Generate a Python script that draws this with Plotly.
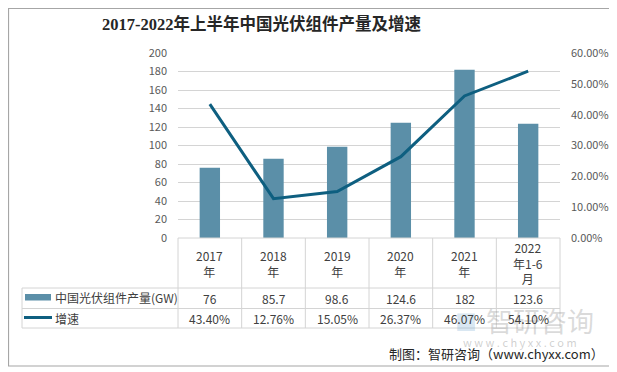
import plotly.graph_objects as go

# ---- data ----
categories = ["2017年", "2018年", "2019年", "2020年", "2021年", "2022年1-6月"]
category_labels = ["2017<br>年", "2018<br>年", "2019<br>年", "2020<br>年", "2021<br>年", "2022<br>年1-6<br>月"]
output_gw = [76, 85.7, 98.6, 124.6, 182, 123.6]
growth_pct = [43.40, 12.76, 15.05, 26.37, 46.07, 54.10]
series_names = ["中国光伏组件产量(GW)", "增速"]
title_text = "2017-2022年上半年中国光伏组件产量及增速"
credit_text = "制图：智研咨询（www.chyxx.com）"

PAGE_W, PAGE_H = 617, 372
OFF = 8  # default body margin of the page
L, R, T, B = 178, 560, 53, 238  # plot area in page pixels

def px(x):
    return (x - L) / (R - L)

def py(y):
    return (B - y) / (B - T)

BAR_COLOR = "#5B8FA8"
LINE_COLOR = "#0E5F80"
GRID = "#D4D4D4"
TXT = "#404040"
FONT = "Microsoft YaHei, Noto Sans CJK SC, sans-serif"

fig = go.Figure()
fig.add_trace(go.Bar(x=categories, y=output_gw, name=series_names[0],
                     marker=dict(color=BAR_COLOR, line=dict(width=0)), width=0.32))
fig.add_trace(go.Scatter(x=categories, y=[v / 100 for v in growth_pct], name=series_names[1],
                         mode="lines", line=dict(color=LINE_COLOR, width=3), yaxis="y2"))

shapes = []
def hline(y, x0, x1, color=GRID, width=1):
    shapes.append(dict(type="line", xref="paper", yref="paper", x0=px(x0), x1=px(x1),
                       y0=py(y), y1=py(y), line=dict(color=color, width=width)))
def vline(x, y0, y1, color=GRID, width=1):
    shapes.append(dict(type="line", xref="paper", yref="paper", x0=px(x), x1=px(x),
                       y0=py(y0), y1=py(y1), line=dict(color=color, width=width)))

row1, row2, row3 = 288, 308.5, 328
col_edges = [L + i * (R - L) / 6 for i in range(7)]
for xe in col_edges:
    vline(xe, B, row3)
vline(22, row1, row3)
for yr in (row1, row2, row3):
    hline(yr, 22, R)
hline(B, L, R)

# legend symbols in table
shapes.append(dict(type="rect", xref="paper", yref="paper", x0=px(25), x1=px(51),
                   y0=py(294), y1=py(300.5), fillcolor=BAR_COLOR, line=dict(width=0)))
shapes.append(dict(type="line", xref="paper", yref="paper", x0=px(24), x1=px(52),
                   y0=py(317.5), y1=py(317.5), line=dict(color=LINE_COLOR, width=3)))

# outer border
shapes.append(dict(type="rect", xref="paper", yref="paper", x0=px(OFF + 0.5), x1=px(612),
                   y0=py(OFF + 0.5), y1=py(366), line=dict(color="#A6A6A6", width=1.2),
                   fillcolor="rgba(0,0,0,0)"))

def ann(x, y, text, size=12, color=TXT, family=FONT, xref="paper", xanchor="center", **kw):
    return dict(x=x, xref=xref, y=y, yref="paper", text=text, showarrow=False,
                xanchor=xanchor, yanchor="middle",
                font=dict(family=family, size=size, color=color), **kw)

annotations = []
# watermark (drawn first, behind the table text)
annotations.append(ann(px(466), py(320), "■", size=22, color="rgba(120,170,210,0.30)"))
annotations.append(ann(px(540), py(320), "智研咨询", size=27, color="rgba(150,150,150,0.35)"))
annotations.append(ann(px(520), py(342), "w w w . c h y x x . c o m", size=11,
                       color="rgba(150,150,150,0.45)"))

for cat, lab, v, g in zip(categories, category_labels, output_gw, growth_pct):
    annotations.append(ann(cat, py((B + row1) / 2), lab, xref="x"))
    annotations.append(ann(cat, py((row1 + row2) / 2), f"{v:g}", xref="x"))
    annotations.append(ann(cat, py((row2 + row3) / 2), f"{g:.2f}%", xref="x"))

annotations.append(ann(px(53), py(297.5), series_names[0], xanchor="left"))
annotations.append(ann(px(53), py(318), series_names[1], xanchor="left"))

# title and credit
annotations.append(ann(px(261.5), py(24), "<b>" + title_text + "</b>", size=16.5, color="#262626",
                       family="Liberation Serif, Noto Sans CJK SC, serif"))
annotations.append(ann(px(606), py(353), credit_text, size=13, color="#262626", xanchor="right"))

fig.update_layout(
    width=PAGE_W - OFF, height=PAGE_H - OFF,
    margin=dict(l=L - OFF, r=PAGE_W - R, t=T - OFF, b=PAGE_H - B, pad=0, autoexpand=False),
    paper_bgcolor="white", plot_bgcolor="white",
    showlegend=False,
    xaxis=dict(type="category", categoryorder="array", categoryarray=categories,
               range=[-0.5, 5.5], showticklabels=False, showgrid=False, zeroline=False,
               showline=False, ticks="", automargin=False),
    yaxis=dict(range=[0, 200], dtick=20, showgrid=True, gridcolor=GRID, gridwidth=1,
               zeroline=False, showline=False, ticks="", automargin=False,
               tickfont=dict(family=FONT, size=11, color="#595959"), ticklabelstandoff=10),
    yaxis2=dict(range=[0, 0.6], dtick=0.1, tickformat=".2%", overlaying="y", side="right",
                showgrid=False, zeroline=False, showline=False, ticks="", automargin=False,
                tickfont=dict(family=FONT, size=11, color="#595959"), ticklabelstandoff=10),
    shapes=shapes,
    annotations=annotations,
)

fig.write_html("out.html")
